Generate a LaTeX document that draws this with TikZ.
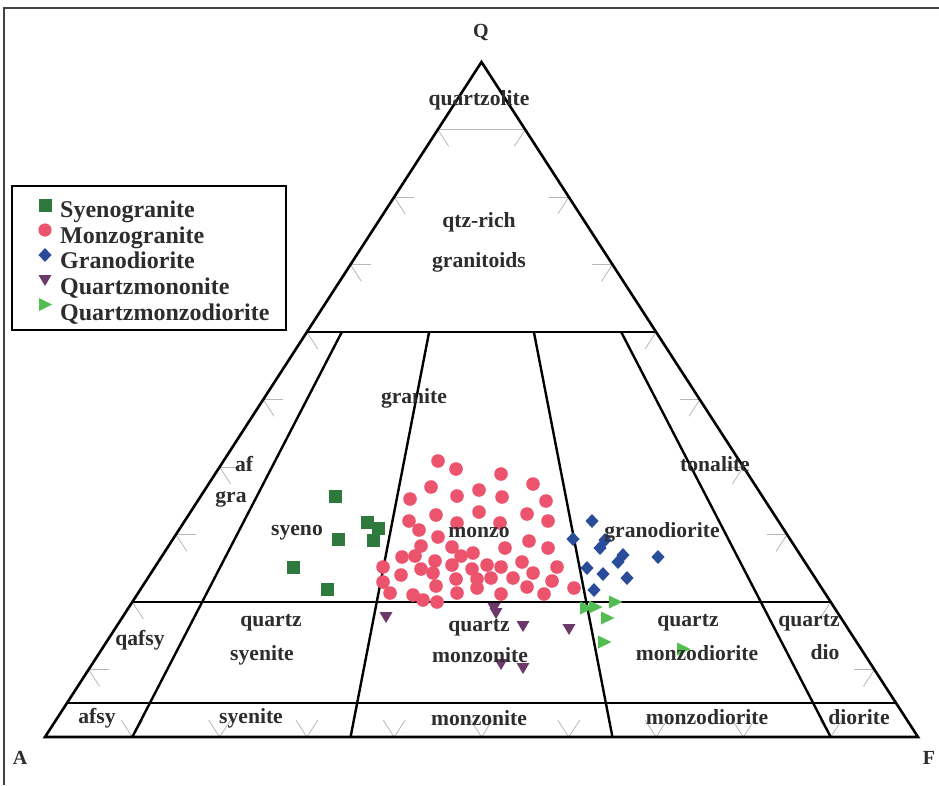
\documentclass[tikz,border=0pt]{standalone}
\usepackage{fontspec}
\setmainfont{Liberation Serif}
\usetikzlibrary{calc}
\definecolor{sqc}{RGB}{46,122,60}
\definecolor{cic}{RGB}{236,84,110}
\definecolor{dic}{RGB}{43,76,155}
\definecolor{dtc}{RGB}{107,58,107}
\definecolor{rtc}{RGB}{82,190,82}
\definecolor{txc}{RGB}{45,45,45}
\tikzset{
  lab/.style={font=\fontsize{21.6}{22}\selectfont\bfseries, text=txc, inner sep=0pt},
  legtxt/.style={font=\fontsize{24}{26}\selectfont\bfseries, text=txc, inner sep=0pt, anchor=base west},
  vtx/.style={font=\fontsize{20}{22}\selectfont\bfseries, text=txc, inner sep=0pt},
  edgeline/.style={line width=2.6pt, black, line join=miter},
  fieldline/.style={line width=2.4pt, black},
  tickline/.style={line width=0.8pt, black!28},
}
\begin{document}
\begin{tikzpicture}[x=1pt,y=-1pt]
\useasboundingbox (0,0) rectangle (939,785);
\fill[white] (0,0) rectangle (939,785);
% frame
\draw[line width=2pt, black!75] (4,785) -- (4,8) -- (939,8);

% vertices
\coordinate (Qv) at (481.5,62);
\coordinate (Av) at (45,737);
\coordinate (Fv) at (918,737);

% ticks (light grey)
\foreach \q in {0.1,0.2,...,0.95}{
  \coordinate (lt) at ($(Av)!\q!(Qv)$);
  \coordinate (rt) at ($(Fv)!\q!(Qv)$);
  \draw[tickline] (lt) -- ++(20,0);
  \draw[tickline] (lt) -- ++(10.9,16.8);
  \draw[tickline] (rt) -- ++(-20,0);
  \draw[tickline] (rt) -- ++(-10.9,16.8);
}
\foreach \k in {1,...,9}{
  \coordinate (bt) at ($(Av)!\k/10!(Fv)$);
  \draw[tickline] (bt) -- ++(-10.9,-16.8);
  \draw[tickline] (bt) -- ++(10.9,-16.8);
}
% Q = 90 line
\draw[tickline, line width=1pt] ($(Av)!0.9!(Qv)$) -- ($(Fv)!0.9!(Qv)$);

% base points for field boundaries
\coordinate (b1) at ($(Av)!0.10!(Fv)$);
\coordinate (b2) at ($(Av)!0.35!(Fv)$);
\coordinate (b3) at ($(Av)!0.65!(Fv)$);
\coordinate (b4) at ($(Av)!0.90!(Fv)$);

% horizontal field lines
\draw[fieldline] ($(Av)!0.6!(Qv)$) -- ($(Fv)!0.6!(Qv)$);
\draw[fieldline] ($(Av)!0.2!(Qv)$) -- ($(Fv)!0.2!(Qv)$);
\draw[fieldline] ($(Av)!0.05!(Qv)$) -- ($(Fv)!0.05!(Qv)$);
% radial field lines
\foreach \b in {b1,b2,b3,b4}{
  \draw[fieldline] ($(Qv)!0.4!(\b)$) -- (\b);
}
% outer triangle
\draw[edgeline] (Qv) -- (Av) -- (Fv) -- cycle;

% data: monzogranite circles
\foreach \x/\y in {438/461,456/469,501/474,431/487,533/484,410/499,457/496,479/490,502/497,546/501,
  436/515,479/512,527/514,409/521,457/523,500/523,548/521,419/530,438/537,529/541,548/548,421/546,
  452/547,505/548,402/557,415/556,435/561,461/556,473/553,452/565,487/565,501/567,522/562,557/567,
  383/567,401/575,421/569,433/573,472/569,491/578,513/578,533/573,456/579,477/579,552/581,383/582,
  436/586,457/593,477/588,527/587,574/588,390/593,413/595,423/600,437/602,501/594,544/594}
  \fill[cic] (\x,\y) circle (6.8);
% syenogranite squares
\foreach \x/\y in {335/496,367/522,378/528,373/540,338/539,293/567,327/589}
  \fill[sqc,shift={(\x,\y)}] (-6.5,-6.5) rectangle (6.5,6.5);
% granodiorite diamonds
\foreach \x/\y in {592/521,573/539,605/540,600/548,623/555,618/562,658/557,587/568,603/574,627/578,594/590}
  \fill[dic,shift={(\x,\y)}] (0,-7) -- (6.5,0) -- (0,7) -- (-6.5,0) -- cycle;
% quartz monzonite down triangles
\foreach \x/\y in {386/617,494/608,496/613,523/626,569/629,501/664,523/668}
  \fill[dtc,shift={(\x,\y)}] (-6.5,-5) -- (6.5,-5) -- (0,6) -- cycle;
% quartz monzodiorite right triangles
\foreach \x/\y in {586/608,595/607,615/602,607/618,604/642,683/649}
  \fill[rtc,shift={(\x,\y)}] (-6,-6.5) -- (-6,6.5) -- (7.5,0) -- cycle;

% vertex labels
\node[vtx] (lQ) at (481,32) {Q};
\node[vtx] (lA) at (20,758) {A};
\node[vtx] (lF) at (929,758) {F};

% field labels
\node[lab] (n1) at (479,100) {quartzolite};
\node[lab] (n2) at (479,222) {qtz-rich};
\node[lab] (n3) at (479,262) {granitoids};
\node[lab] (n4) at (414,398) {granite};
\node[lab] (n5) at (244,464) {af};
\node[lab] (n6) at (231,499) {gra};
\node[lab] (n7) at (297,533) {syeno};
\node[lab] (n8) at (479,533) {monzo};
\node[lab] (n9) at (662,532) {granodiorite};
\node[lab] (n10) at (715,464) {tonalite};
\node[lab] (n11) at (140,640) {qafsy};
\node[lab] (n12) at (271,623) {quartz};
\node[lab] (n13) at (262,655) {syenite};
\node[lab] (n14) at (479,628) {quartz};
\node[lab] (n15) at (480,655) {monzonite};
\node[lab] (n16) at (688,623) {quartz};
\node[lab] (n17) at (697,653) {monzodiorite};
\node[lab] (n18) at (809,623) {quartz};
\node[lab] (n19) at (825,652) {dio};
\node[lab] (n20) at (97,718) {afsy};
\node[lab] (n21) at (251,718) {syenite};
\node[lab] (n22) at (479,718) {monzonite};
\node[lab] (n23) at (707,717) {monzodiorite};
\node[lab] (n24) at (859,717) {diorite};

% legend
\draw[line width=2.6pt, black] (12,186) rectangle (286,330);
\fill[sqc] (38.5,198.5) rectangle (51.5,211.5);
\fill[cic] (45,230) circle (6.6);
\fill[dic] (45,248) -- (51.5,255) -- (45,262) -- (38.5,255) -- cycle;
\fill[dtc] (38.5,275) -- (51.5,275) -- (45,286) -- cycle;
\fill[rtc] (39,298) -- (39,311) -- (52,304.5) -- cycle;
\node[legtxt] (g1) at (60,217.5) {Syenogranite};
\node[legtxt] (g2) at (60,243) {Monzogranite};
\node[legtxt] (g3) at (60,268.5) {Granodiorite};
\node[legtxt] (g4) at (60,294) {Quartzmononite};
\node[legtxt] (g5) at (60,320) {Quartzmonzodiorite};
\end{tikzpicture}
\end{document}
